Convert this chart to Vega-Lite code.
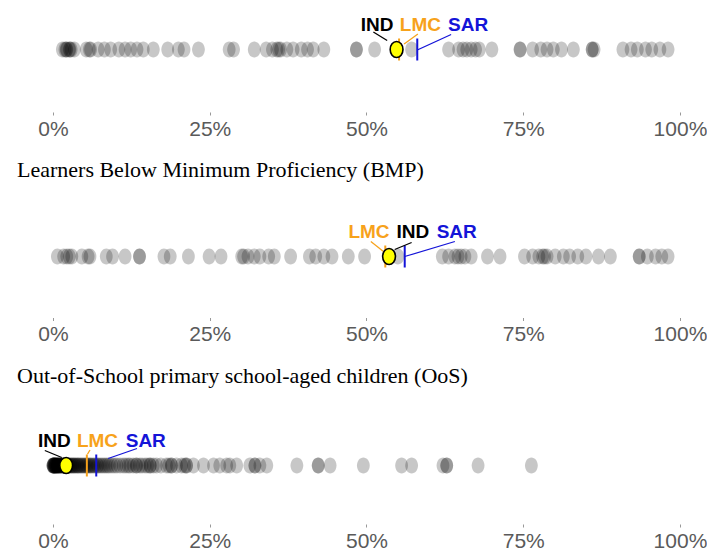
{
  "$schema": "https://vega.github.io/schema/vega-lite/v6.json",
  "padding": {"left": 17, "top": 5, "right": 0, "bottom": 0},
  "background": "white",
  "spacing": 20,
  "config": {
    "view": {"stroke": null},
    "title": {"anchor": "start", "font": "Liberation Serif", "fontSize": 22, "fontWeight": "normal", "color": "black", "offset": 30},
    "axisX": {"domain": false, "grid": false, "ticks": true, "tickSize": 3, "tickColor": "#999999", "labelFont": "Liberation Sans", "labelFontSize": 21, "labelColor": "#5a5a5a", "labelPadding": 3, "labelFlush": false, "title": null}
  },
  "datasets": {
    "lp": [
      {"value": 1.5}, {"value": 1.9}, {"value": 2.1}, {"value": 2.2}, {"value": 2.6}, {"value": 2.7}, {"value": 2.9}, {"value": 3.4}, {"value": 5.3}, {"value": 5.8}, {"value": 6.0}, {"value": 7.2}, {"value": 8.2}, {"value": 9.2}, {"value": 10.5}, {"value": 11.5}, {"value": 12.4}, {"value": 13.4}, {"value": 14.4}, {"value": 16.0}, {"value": 18.3}, {"value": 20.0}, {"value": 20.9}, {"value": 23.2}, {"value": 28.1}, {"value": 28.8}, {"value": 32.1}, {"value": 34.0}, {"value": 35.0}, {"value": 35.7}, {"value": 36.0}, {"value": 36.3}, {"value": 37.3}, {"value": 38.3}, {"value": 39.6}, {"value": 40.6}, {"value": 41.5}, {"value": 43.2}, {"value": 48.4}, {"value": 48.4}, {"value": 51.3}, {"value": 57.2}, {"value": 63.1}, {"value": 64.7}, {"value": 65.4}, {"value": 66.0}, {"value": 66.7}, {"value": 67.4}, {"value": 68.0}, {"value": 70.0}, {"value": 74.5}, {"value": 74.5}, {"value": 76.5}, {"value": 77.8}, {"value": 78.8}, {"value": 79.8}, {"value": 81.1}, {"value": 83.0}, {"value": 86.0}, {"value": 86.0}, {"value": 86.3}, {"value": 90.9}, {"value": 92.2}, {"value": 93.2}, {"value": 94.5}, {"value": 95.5}, {"value": 96.8}, {"value": 98.1}
    ],
    "bmp": [
      {"value": 0.7}, {"value": 1.7}, {"value": 2.2}, {"value": 2.6}, {"value": 3.0}, {"value": 4.6}, {"value": 5.6}, {"value": 5.9}, {"value": 8.5}, {"value": 9.5}, {"value": 11.5}, {"value": 13.8}, {"value": 13.8}, {"value": 17.7}, {"value": 18.7}, {"value": 21.6}, {"value": 24.9}, {"value": 26.8}, {"value": 30.1}, {"value": 30.4}, {"value": 31.1}, {"value": 32.1}, {"value": 33.0}, {"value": 34.4}, {"value": 35.3}, {"value": 37.9}, {"value": 40.9}, {"value": 41.9}, {"value": 43.2}, {"value": 44.5}, {"value": 47.1}, {"value": 49.7}, {"value": 55.0}, {"value": 62.1}, {"value": 63.1}, {"value": 64.1}, {"value": 64.6}, {"value": 65.1}, {"value": 65.7}, {"value": 66.7}, {"value": 69.3}, {"value": 71.3}, {"value": 75.2}, {"value": 76.5}, {"value": 77.5}, {"value": 78.1}, {"value": 78.4}, {"value": 78.8}, {"value": 80.1}, {"value": 81.4}, {"value": 82.4}, {"value": 83.7}, {"value": 85.0}, {"value": 87.0}, {"value": 88.9}, {"value": 93.5}, {"value": 93.5}, {"value": 94.8}, {"value": 96.1}, {"value": 97.1}, {"value": 98.1}
    ],
    "oos": [
      {"value": 0.0}, {"value": 0.0}, {"value": 0.0}, {"value": 0.1}, {"value": 0.1}, {"value": 0.1}, {"value": 0.2}, {"value": 0.2}, {"value": 0.3}, {"value": 0.3}, {"value": 0.4}, {"value": 0.4}, {"value": 0.5}, {"value": 0.5}, {"value": 0.6}, {"value": 0.6}, {"value": 0.7}, {"value": 0.8}, {"value": 0.8}, {"value": 0.9}, {"value": 1.0}, {"value": 1.0}, {"value": 1.1}, {"value": 1.2}, {"value": 1.3}, {"value": 1.4}, {"value": 1.5}, {"value": 1.6}, {"value": 1.7}, {"value": 1.8}, {"value": 1.9}, {"value": 2.0}, {"value": 2.2}, {"value": 2.3}, {"value": 2.5}, {"value": 2.6}, {"value": 2.8}, {"value": 2.9}, {"value": 3.1}, {"value": 3.2}, {"value": 3.4}, {"value": 3.5}, {"value": 3.7}, {"value": 3.9}, {"value": 4.0}, {"value": 4.2}, {"value": 4.4}, {"value": 4.6}, {"value": 4.8}, {"value": 5.0}, {"value": 5.2}, {"value": 5.4}, {"value": 5.6}, {"value": 5.8}, {"value": 6.0}, {"value": 6.2}, {"value": 6.5}, {"value": 6.7}, {"value": 7.0}, {"value": 7.2}, {"value": 7.5}, {"value": 7.8}, {"value": 8.1}, {"value": 8.4}, {"value": 8.7}, {"value": 9.0}, {"value": 9.4}, {"value": 9.8}, {"value": 10.2}, {"value": 10.7},
      {"value": 11.2}, {"value": 11.6}, {"value": 12.0}, {"value": 12.3}, {"value": 12.8}, {"value": 13.3}, {"value": 13.3}, {"value": 13.8}, {"value": 14.2}, {"value": 14.7}, {"value": 15.1}, {"value": 15.5}, {"value": 15.5}, {"value": 16.0}, {"value": 16.5}, {"value": 17.2}, {"value": 18.1}, {"value": 18.5}, {"value": 18.9}, {"value": 18.9}, {"value": 19.7}, {"value": 20.5}, {"value": 21.0}, {"value": 21.3}, {"value": 21.3}, {"value": 22.4}, {"value": 24.0}, {"value": 25.6}, {"value": 26.6}, {"value": 27.7}, {"value": 28.2}, {"value": 29.3}, {"value": 31.4}, {"value": 32.2}, {"value": 32.2}, {"value": 33.0}, {"value": 34.1}, {"value": 38.9}, {"value": 42.3}, {"value": 42.3}, {"value": 44.2}, {"value": 49.5}, {"value": 55.6}, {"value": 57.2}, {"value": 62.2}, {"value": 62.8}, {"value": 62.8}, {"value": 67.8}, {"value": 76.3}
    ],
    "ann": [
      {"panel": "LP", "key": "IND", "value": 54.8, "lx": 51.7, "ly": 1, "sx1": 51.1, "sy1": 0.7, "sx2": 53.3, "sy2": 0.36},
      {"panel": "LP", "key": "LMC", "value": 55.2, "lx": 58.6, "ly": 1, "sx1": 58.2, "sy1": 0.62, "sx2": 56.0, "sy2": 0.22},
      {"panel": "LP", "key": "SAR", "value": 58.1, "lx": 66.2, "ly": 1, "sx1": 63.5, "sy1": 0.6, "sx2": 58.1, "sy2": -0.02},
      {"panel": "BMP", "key": "IND", "value": 53.6, "lx": 57.4, "ly": 1, "sx1": 57.2, "sy1": 0.56, "sx2": 54.5, "sy2": 0.28},
      {"panel": "BMP", "key": "LMC", "value": 53.0, "lx": 50.4, "ly": 1, "sx1": 50.7, "sy1": 0.6, "sx2": 52.8, "sy2": 0.18},
      {"panel": "BMP", "key": "SAR", "value": 56.1, "lx": 64.4, "ly": 1, "sx1": 64.1, "sy1": 0.6, "sx2": 56.1, "sy2": 0.0},
      {"panel": "OOS", "key": "IND", "value": 2.1, "lx": 0.2, "ly": 1, "sx1": -1.3, "sy1": 0.6, "sx2": 1.4, "sy2": 0.32},
      {"panel": "OOS", "key": "LMC", "value": 5.4, "lx": 7.1, "ly": 1, "sx1": 5.9, "sy1": 0.62, "sx2": 5.5, "sy2": 0.45},
      {"panel": "OOS", "key": "SAR", "value": 6.9, "lx": 14.8, "ly": 1, "sx1": 13.4, "sy1": 0.68, "sx2": 8.8, "sy2": 0.28}
    ]
  },
  "vconcat": [
    {
      "width": 673, "height": 107,
      "layer": [
        {"data": {"name": "lp"}, "mark": {"type": "point", "shape": "M0,-1A0.8,1,0,1,1,0,1A0.8,1,0,1,1,0,-1Z", "filled": true, "fill": "black", "opacity": 0.22, "strokeWidth": 0, "size": 256},
         "encoding": {"x": {"field": "value", "type": "quantitative", "scale": {"domain": [-5.74, 101.6], "nice": false, "zero": false}, "axis": {"values": [0, 25, 50, 75, 100], "labelExpr": "datum.value + '%'"}}, "y": {"datum": 0, "type": "quantitative", "scale": {"domain": [-2.5, 1.78], "nice": false, "zero": false}, "axis": null}}},
        {"data": {"name": "ann"}, "transform": [{"filter": "datum.panel == 'LP' && datum.key != 'IND'"}], "mark": {"type": "rule", "strokeWidth": 2},
         "encoding": {"x": {"field": "value", "type": "quantitative"}, "y": {"datum": -0.44, "type": "quantitative"}, "y2": {"datum": 0.44}, "color": {"field": "key", "type": "nominal", "scale": {"domain": ["IND", "LMC", "SAR"], "range": ["black", "#f7a21b", "#1414d8"]}, "legend": null}}},
        {"data": {"name": "ann"}, "transform": [{"filter": "datum.panel == 'LP'"}], "mark": {"type": "rule", "strokeWidth": 1.3},
         "encoding": {"x": {"field": "sx1", "type": "quantitative"}, "x2": {"field": "sx2"}, "y": {"field": "sy1", "type": "quantitative"}, "y2": {"field": "sy2"}, "color": {"field": "key", "type": "nominal", "legend": null}}},
        {"data": {"name": "ann"}, "transform": [{"filter": "datum.panel == 'LP' && datum.key == 'IND'"}], "mark": {"type": "point", "shape": "M0,-1A0.8,1,0,1,1,0,1A0.8,1,0,1,1,0,-1Z", "filled": true, "fill": "#ffff00", "stroke": "black", "strokeWidth": 1.6, "opacity": 1, "size": 256},
         "encoding": {"x": {"field": "value", "type": "quantitative"}, "y": {"datum": 0, "type": "quantitative"}}},
        {"data": {"name": "ann"}, "transform": [{"filter": "datum.panel == 'LP'"}], "mark": {"type": "text", "font": "Liberation Sans", "fontWeight": "bold", "fontSize": 19, "baseline": "middle", "align": "center"},
         "encoding": {"x": {"field": "lx", "type": "quantitative"}, "y": {"field": "ly", "type": "quantitative"}, "text": {"field": "key"}, "color": {"field": "key", "type": "nominal", "legend": null}}}
      ]
    },
    {
      "title": "Learners Below Minimum Proficiency (BMP)",
      "width": 673, "height": 105.5,
      "layer": [
        {"data": {"name": "bmp"}, "mark": {"type": "point", "shape": "M0,-1A0.8,1,0,1,1,0,1A0.8,1,0,1,1,0,-1Z", "filled": true, "fill": "black", "opacity": 0.22, "strokeWidth": 0, "size": 256},
         "encoding": {"x": {"field": "value", "type": "quantitative", "scale": {"domain": [-5.74, 101.6], "nice": false, "zero": false}, "axis": {"values": [0, 25, 50, 75, 100], "labelExpr": "datum.value + '%'"}}, "y": {"datum": 0, "type": "quantitative", "scale": {"domain": [-2.44, 1.78], "nice": false, "zero": false}, "axis": null}}},
        {"data": {"name": "ann"}, "transform": [{"filter": "datum.panel == 'BMP' && datum.key != 'IND'"}], "mark": {"type": "rule", "strokeWidth": 2},
         "encoding": {"x": {"field": "value", "type": "quantitative"}, "y": {"datum": -0.44, "type": "quantitative"}, "y2": {"datum": 0.44}, "color": {"field": "key", "type": "nominal", "legend": null}}},
        {"data": {"name": "ann"}, "transform": [{"filter": "datum.panel == 'BMP'"}], "mark": {"type": "rule", "strokeWidth": 1.3},
         "encoding": {"x": {"field": "sx1", "type": "quantitative"}, "x2": {"field": "sx2"}, "y": {"field": "sy1", "type": "quantitative"}, "y2": {"field": "sy2"}, "color": {"field": "key", "type": "nominal", "legend": null}}},
        {"data": {"name": "ann"}, "transform": [{"filter": "datum.panel == 'BMP' && datum.key == 'IND'"}], "mark": {"type": "point", "shape": "M0,-1A0.8,1,0,1,1,0,1A0.8,1,0,1,1,0,-1Z", "filled": true, "fill": "#ffff00", "stroke": "black", "strokeWidth": 1.6, "opacity": 1, "size": 256},
         "encoding": {"x": {"field": "value", "type": "quantitative"}, "y": {"datum": 0, "type": "quantitative"}}},
        {"data": {"name": "ann"}, "transform": [{"filter": "datum.panel == 'BMP'"}], "mark": {"type": "text", "font": "Liberation Sans", "fontWeight": "bold", "fontSize": 19, "baseline": "middle", "align": "center"},
         "encoding": {"x": {"field": "lx", "type": "quantitative"}, "y": {"field": "ly", "type": "quantitative"}, "text": {"field": "key"}, "color": {"field": "key", "type": "nominal", "legend": null}}}
      ]
    },
    {
      "title": {"text": "Out-of-School primary school-aged children (OoS)", "offset": 33},
      "width": 673, "height": 103,
      "layer": [
        {"data": {"name": "oos"}, "mark": {"type": "point", "shape": "M0,-1A0.8,1,0,1,1,0,1A0.8,1,0,1,1,0,-1Z", "filled": true, "fill": "black", "opacity": 0.22, "strokeWidth": 0, "size": 256},
         "encoding": {"x": {"field": "value", "type": "quantitative", "scale": {"domain": [-5.74, 101.6], "nice": false, "zero": false}, "axis": {"values": [0, 25, 50, 75, 100], "labelExpr": "datum.value + '%'"}}, "y": {"datum": 0, "type": "quantitative", "scale": {"domain": [-2.34, 1.78], "nice": false, "zero": false}, "axis": null}}},
        {"data": {"name": "ann"}, "transform": [{"filter": "datum.panel == 'OOS' && datum.key != 'IND'"}], "mark": {"type": "rule", "strokeWidth": 2},
         "encoding": {"x": {"field": "value", "type": "quantitative"}, "y": {"datum": -0.44, "type": "quantitative"}, "y2": {"datum": 0.44}, "color": {"field": "key", "type": "nominal", "legend": null}}},
        {"data": {"name": "ann"}, "transform": [{"filter": "datum.panel == 'OOS'"}], "mark": {"type": "rule", "strokeWidth": 1.3},
         "encoding": {"x": {"field": "sx1", "type": "quantitative"}, "x2": {"field": "sx2"}, "y": {"field": "sy1", "type": "quantitative"}, "y2": {"field": "sy2"}, "color": {"field": "key", "type": "nominal", "legend": null}}},
        {"data": {"name": "ann"}, "transform": [{"filter": "datum.panel == 'OOS' && datum.key == 'IND'"}], "mark": {"type": "point", "shape": "M0,-1A0.8,1,0,1,1,0,1A0.8,1,0,1,1,0,-1Z", "filled": true, "fill": "#ffff00", "stroke": "black", "strokeWidth": 1.6, "opacity": 1, "size": 256},
         "encoding": {"x": {"field": "value", "type": "quantitative"}, "y": {"datum": 0, "type": "quantitative"}}},
        {"data": {"name": "ann"}, "transform": [{"filter": "datum.panel == 'OOS'"}], "mark": {"type": "text", "font": "Liberation Sans", "fontWeight": "bold", "fontSize": 19, "baseline": "middle", "align": "center"},
         "encoding": {"x": {"field": "lx", "type": "quantitative"}, "y": {"field": "ly", "type": "quantitative"}, "text": {"field": "key"}, "color": {"field": "key", "type": "nominal", "legend": null}}}
      ]
    }
  ]
}
